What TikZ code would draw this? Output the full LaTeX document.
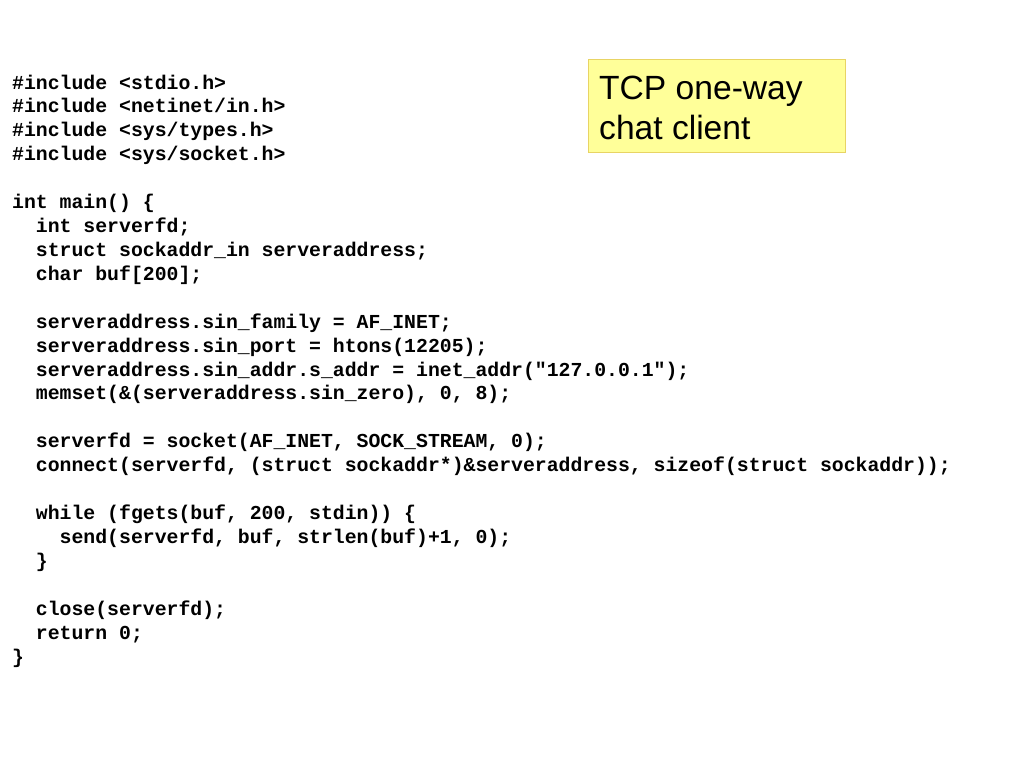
\documentclass[tikz,border=0pt]{standalone}
\usepackage{fontspec}
\setmainfont{Liberation Sans}
\newfontfamily\codefont{Liberation Mono}
\begin{document}
\begin{tikzpicture}[x=1pt,y=-1pt,
  codeline/.style={anchor=base west,inner sep=0pt,font=\codefont\bfseries\fontsize{19.8}{23.9}\selectfont},
  notebox/.style={draw=myborder,fill=myfill,line width=1pt,inner sep=0pt,minimum width=257pt,minimum height=93pt},
  notetext/.style={anchor=base west,inner sep=0pt,font=\fontsize{33.6}{40}\selectfont}]
\definecolor{myfill}{RGB}{255,255,153}
\definecolor{myborder}{RGB}{232,212,100}
\useasboundingbox[fill=white] (0,0) rectangle (1024,768);
\def\L{23.92}
\node[codeline] (l1) at (12,89) {\#include <stdio.h>};
\node[codeline] (l2) at (12,89+\L) {\#include <netinet/in.h>};
\node[codeline] (l3) at (12,89+2*\L) {\#include <sys/types.h>};
\node[codeline] (l4) at (12,89+3*\L) {\#include <sys/socket.h>};
\node[codeline] (l6) at (12,89+5*\L) {int main() \{};
\node[codeline] (l7) at (12,89+6*\L) {\ \ int serverfd;};
\node[codeline] (l8) at (12,89+7*\L) {\ \ struct sockaddr\_in serveraddress;};
\node[codeline] (l9) at (12,89+8*\L) {\ \ char buf[200];};
\node[codeline] (l11) at (12,89+10*\L) {\ \ serveraddress.sin\_family = AF\_INET;};
\node[codeline] (l12) at (12,89+11*\L) {\ \ serveraddress.sin\_port = htons(12205);};
\node[codeline] (l13) at (12,89+12*\L) {\ \ serveraddress.sin\_addr.s\_addr = inet\_addr("127.0.0.1");};
\node[codeline] (l14) at (12,89+13*\L) {\ \ memset(\&(serveraddress.sin\_zero), 0, 8);};
\node[codeline] (l16) at (12,89+15*\L) {\ \ serverfd = socket(AF\_INET, SOCK\_STREAM, 0);};
\node[codeline] (l17) at (12,89+16*\L) {\ \ connect(serverfd, (struct sockaddr*)\&serveraddress, sizeof(struct sockaddr));};
\node[codeline] (l19) at (12,89+18*\L) {\ \ while (fgets(buf, 200, stdin)) \{};
\node[codeline] (l20) at (12,89+19*\L) {\ \ \ \ send(serverfd, buf, strlen(buf)+1, 0);};
\node[codeline] (l21) at (12,89+20*\L) {\ \ \}};
\node[codeline] (l23) at (12,89+22*\L) {\ \ close(serverfd);};
\node[codeline] (l24) at (12,89+23*\L) {\ \ return 0;};
\node[codeline] (l25) at (12,89+24*\L) {\}};
\node[notebox,anchor=north west] (box) at (588,59) {};
\node[notetext] (t1) at (599,99) {TCP one-way};
\node[notetext] (t2) at (599,139) {chat client};
\end{tikzpicture}
\end{document}
